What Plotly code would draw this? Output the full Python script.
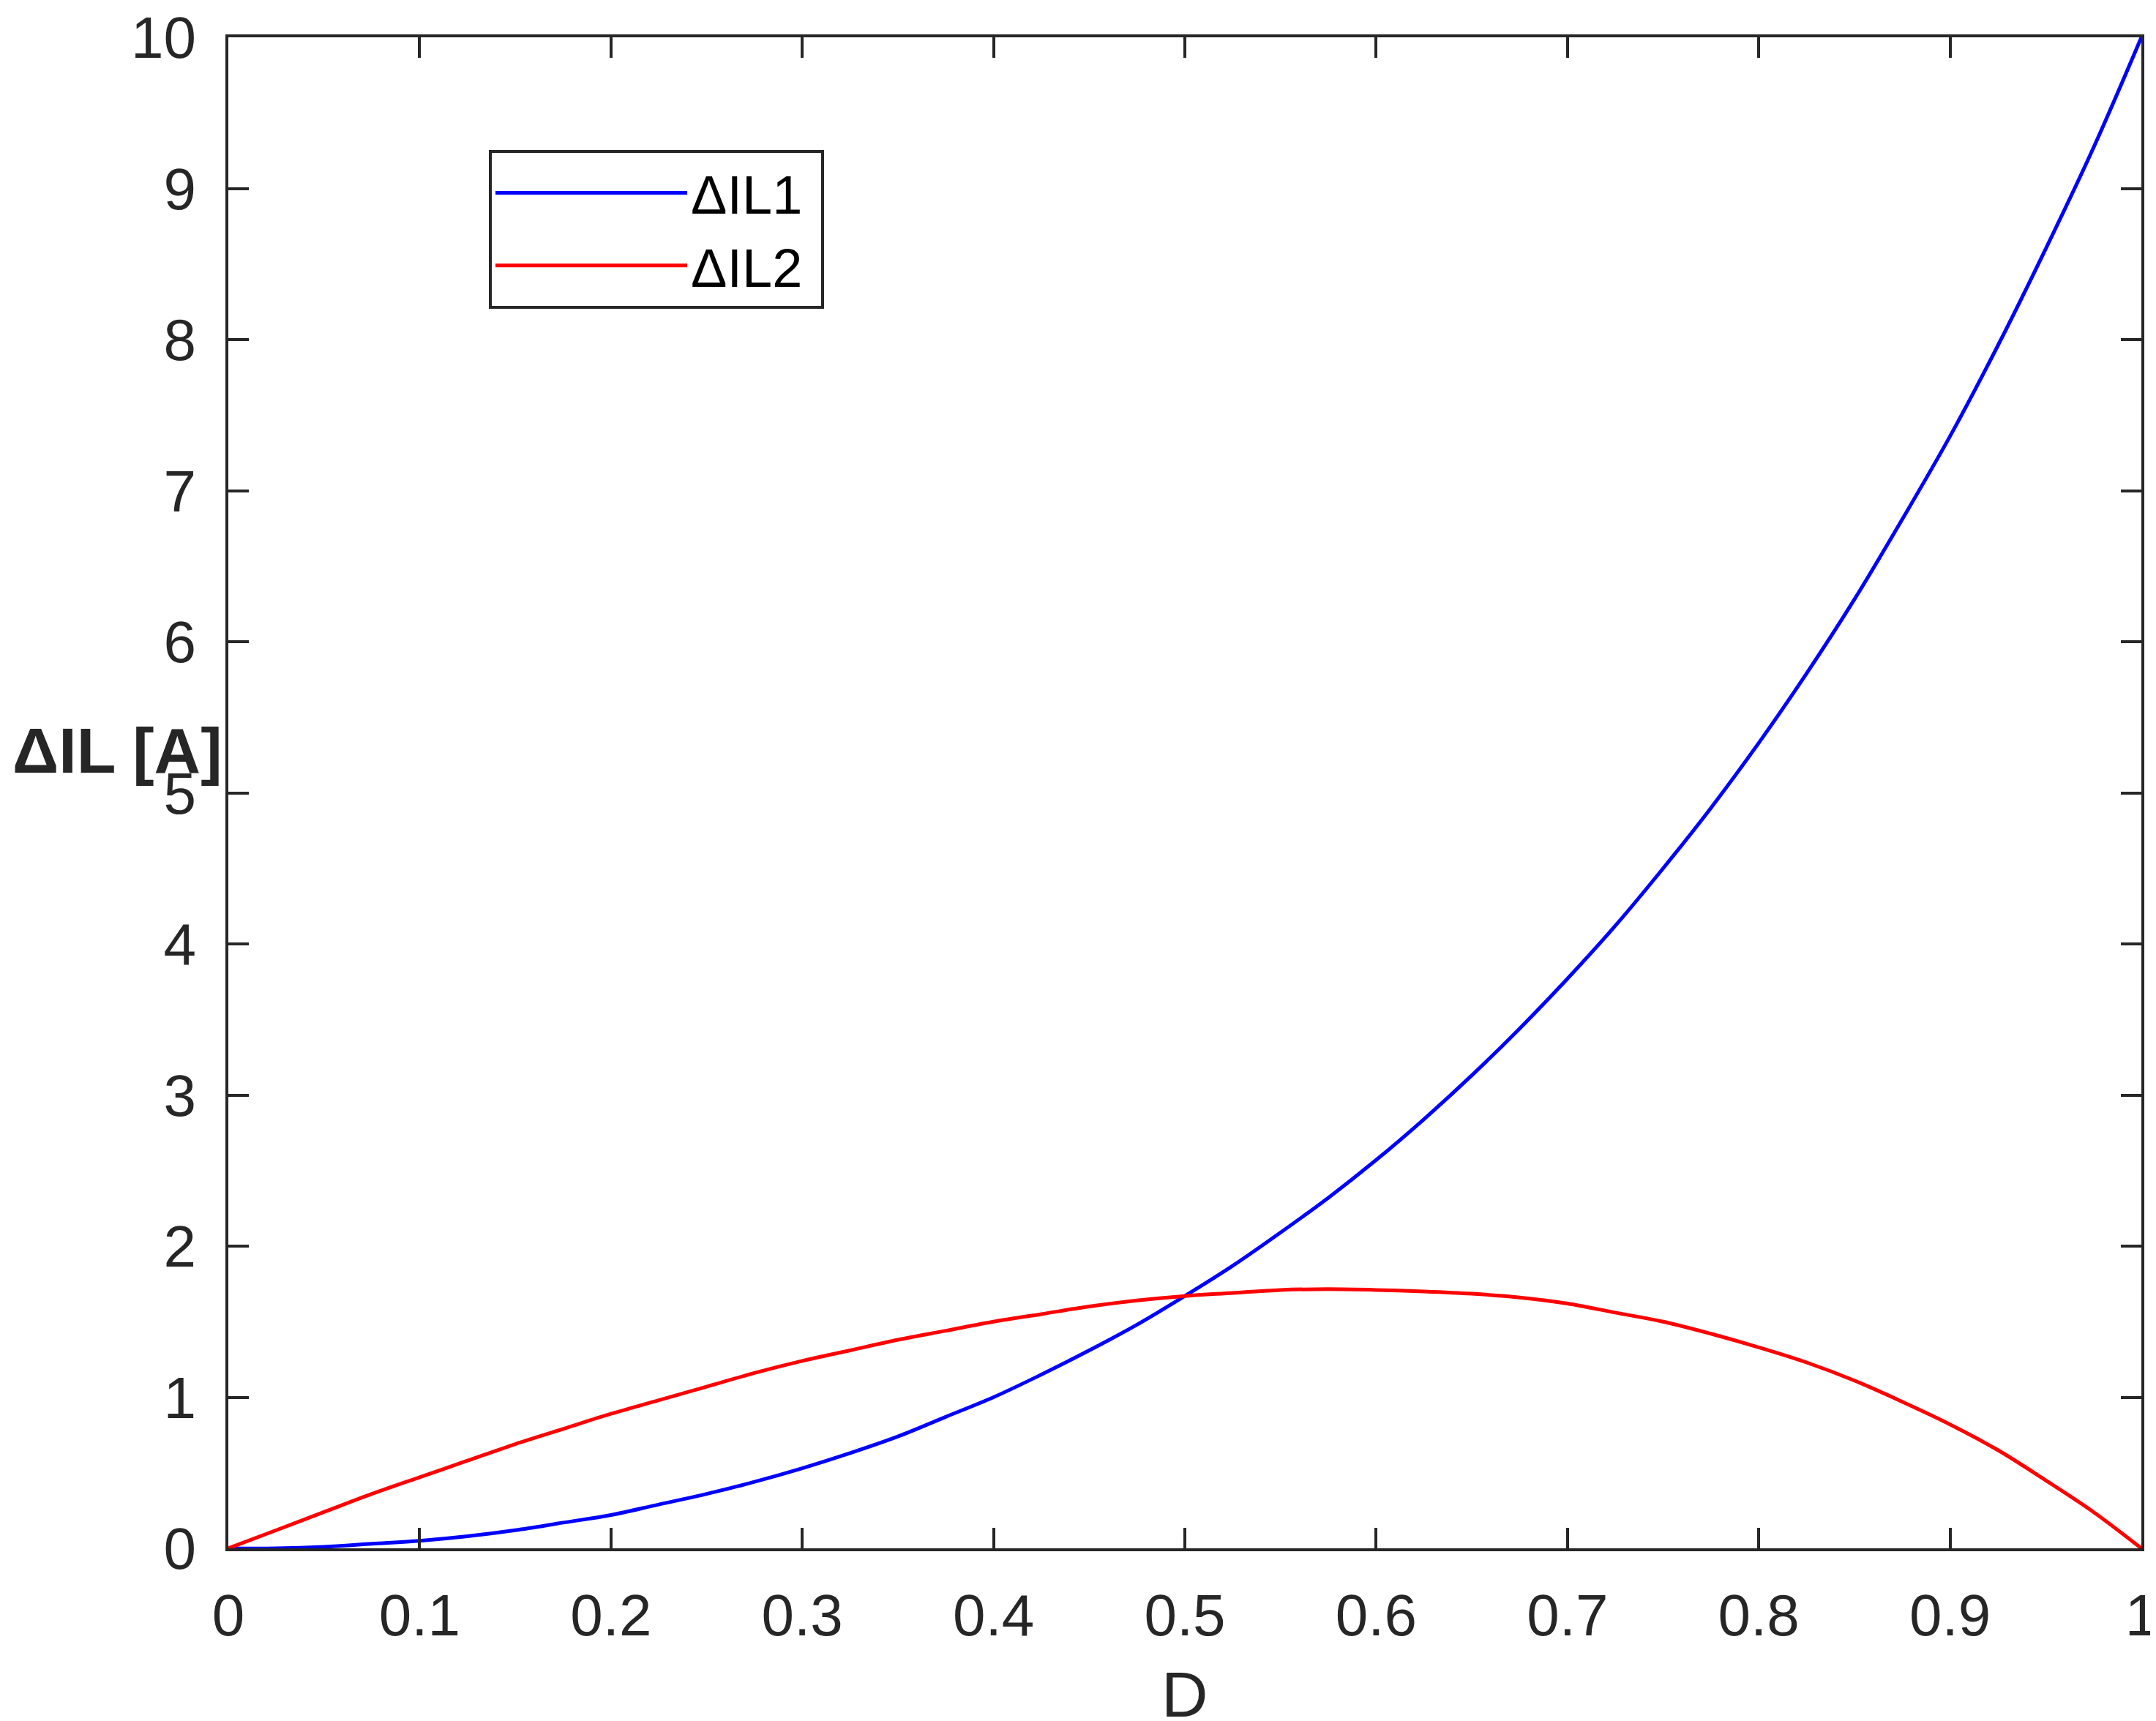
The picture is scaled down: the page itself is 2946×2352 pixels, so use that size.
import plotly.graph_objects as go

# Duty cycle D
D = [0.000, 0.025, 0.050, 0.075, 0.100, 0.125, 0.150, 0.175, 0.200, 0.225,
     0.250, 0.275, 0.300, 0.325, 0.350, 0.375, 0.400, 0.425, 0.450, 0.475,
     0.500, 0.525, 0.550, 0.575, 0.600, 0.625, 0.650, 0.675, 0.700, 0.725,
     0.750, 0.775, 0.800, 0.825, 0.850, 0.875, 0.900, 0.925, 0.950, 0.975,
     1.000]

# Ripple current values [A]
dIL1 = [0.00, 0.00, 0.01, 0.03, 0.05, 0.08, 0.12, 0.17, 0.22, 0.29,
        0.36, 0.44, 0.53, 0.63, 0.74, 0.87, 1.00, 1.15, 1.31, 1.48,
        1.67, 1.87, 2.09, 2.32, 2.57, 2.84, 3.13, 3.44, 3.77, 4.12,
        4.50, 4.90, 5.33, 5.79, 6.28, 6.81, 7.36, 7.96, 8.60, 9.27,
        10.00]
dIL2 = [0.00, 0.12, 0.24, 0.36, 0.47, 0.58, 0.69, 0.79, 0.89, 0.98,
        1.07, 1.16, 1.24, 1.31, 1.38, 1.44, 1.50, 1.55, 1.60, 1.64,
        1.67, 1.69, 1.71, 1.715, 1.71, 1.70, 1.685, 1.66, 1.62, 1.56,
        1.50, 1.42, 1.33, 1.23, 1.11, 0.97, 0.82, 0.65, 0.45, 0.24,
        0.00]

series_names = ["ΔIL1", "ΔIL2"]
series_colors = ["#0000FF", "#FF0000"]

x_ticks = [0, 0.1, 0.2, 0.3, 0.4, 0.5, 0.6, 0.7, 0.8, 0.9, 1]
x_tick_text = ["0", "0.1", "0.2", "0.3", "0.4", "0.5", "0.6", "0.7", "0.8", "0.9", "1"]
y_ticks = [0, 1, 2, 3, 4, 5, 6, 7, 8, 9, 10]

FONT = "Arial, 'Liberation Sans', Helvetica, sans-serif"
AX = "#262626"

fig = go.Figure()
for name, ys, col in zip(series_names, [dIL1, dIL2], series_colors):
    fig.add_trace(go.Scatter(x=D, y=ys, mode="lines", name=name + "\u00a0",
                             line=dict(color=col, width=5, shape="spline", smoothing=1.0)))

axis_common = dict(showline=True, linecolor=AX, linewidth=4, mirror="ticks",
                   ticks="inside", ticklen=28, tickwidth=4, tickcolor=AX,
                   showgrid=False, zeroline=False, ticklabeloverflow="allow",
                   automargin=False,
                   tickfont=dict(family=FONT, size=80, color=AX))

fig.update_xaxes(range=[0, 1], tickvals=x_ticks, ticktext=x_tick_text,
                 ticklabelstandoff=19, **axis_common)
fig.update_yaxes(range=[0, 10], tickvals=y_ticks, ticklabelstandoff=24, **axis_common)

fig.add_annotation(text="<b>ΔIL [A]</b>", xref="paper", yref="paper",
                   x=-0.0027, y=0.528, xanchor="right", yanchor="middle",
                   showarrow=False, font=dict(family=FONT, size=88, color=AX))
fig.add_annotation(text="D", xref="paper", yref="paper",
                   x=0.5, y=-0.0965, xanchor="center", yanchor="middle",
                   showarrow=False, font=dict(family=FONT, size=88, color=AX))

fig.update_layout(
    width=2946, height=2352,
    margin=dict(l=304, r=28, t=43, b=244, autoexpand=False),
    plot_bgcolor="white", paper_bgcolor="white",
    showlegend=True,
    legend=dict(x=0.1362, y=0.9255, xanchor="left", yanchor="top",
                bordercolor=AX, borderwidth=4, bgcolor="white",
                font=dict(family=FONT, size=74, color="black"),
                itemwidth=262, tracegroupgap=0),
)

fig.write_html("out.html")
